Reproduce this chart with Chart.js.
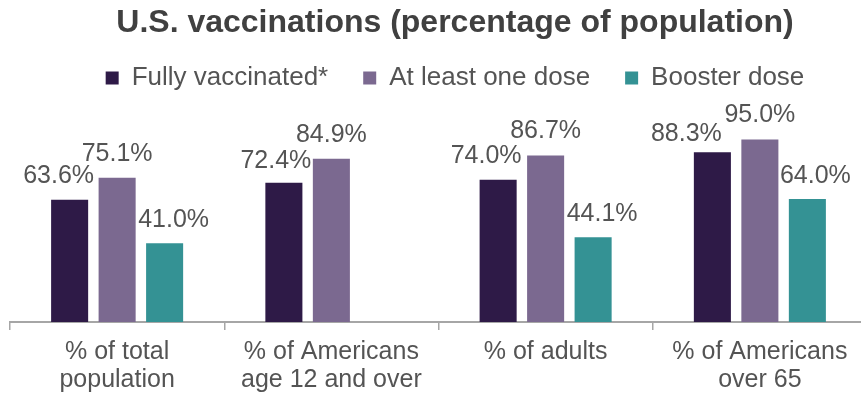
<!DOCTYPE html>
<html>
<head>
<meta charset="utf-8">
<script src="https://cdn.jsdelivr.net/npm/chart.js@4/dist/chart.umd.min.js"></script>
<style>
  html, body { margin: 0; padding: 0; background: #ffffff; overflow: hidden; }
  canvas { display: block; }
</style>
</head>
<body>
<canvas id="chart" width="910" height="401"></canvas>
<script>
// Valores
const categories = [
  ['% of total', 'population'],
  ['% of Americans', 'age 12 and over'],
  ['% of adults'],
  ['% of Americans', 'over 65']
]
const seriesNames = ['Fully vaccinated*', 'At least one dose', 'Booster dose']
const fullyVaccinated = [63.6, 72.4, 74.0, 88.3]
const atLeastOneDose = [75.1, 84.9, 86.7, 95.0]
const boosterDose = [41.0, null, 44.1, 64.0]

const textColor = '#545454'
const fontFamily = '"Liberation Sans", Arial, sans-serif'

// Rótulos de valor acima das barras (estilo Excel, levemente deslocados)
const valueLabels = {
  id: 'valueLabels',
  afterDatasetsDraw(chart, args, opts) {
    const ctx = chart.ctx
    ctx.save()
    ctx.font = '25px ' + fontFamily
    ctx.fillStyle = textColor
    ctx.textAlign = 'center'
    ctx.textBaseline = 'alphabetic'
    chart.data.datasets.forEach((ds, i) => {
      const meta = chart.getDatasetMeta(i)
      meta.data.forEach((bar, j) => {
        const v = ds.data[j]
        if (v == null) return
        ctx.fillText(v.toFixed(1) + '%', bar.x + opts.shiftX[i][j], bar.y - 17 + opts.shiftY[i][j])
      })
    })
    ctx.restore()
  }
}

const ctx = document.getElementById('chart').getContext('2d')

new Chart(ctx, {
  type: 'bar',
  data: {
    labels: categories,
    datasets: [
      { label: seriesNames[0], data: fullyVaccinated, backgroundColor: '#2E1A47' },
      { label: seriesNames[1], data: atLeastOneDose, backgroundColor: '#7B6990' },
      { label: seriesNames[2], data: boosterDose, backgroundColor: '#349294' }
    ]
  },
  options: {
    responsive: false,
    animation: false,
    datasets: {
      bar: {
        categoryPercentage: 0.665,
        barPercentage: 0.78,
        borderWidth: 0
      }
    },
    layout: { padding: 0 },
    plugins: {
      title: {
        display: true,
        text: 'U.S. vaccinations (percentage of population)',
        color: '#404040',
        font: { family: fontFamily, size: 32, weight: 'bold', lineHeight: 0.5 },
        padding: { top: 15, bottom: -1 }
      },
      legend: {
        display: true,
        position: 'top',
        labels: {
          color: textColor,
          font: { family: fontFamily, size: 26 },
          boxWidth: 13,
          boxHeight: 13,
          padding: 35
        }
      },
      tooltip: { enabled: false },
      valueLabels: {
        shiftX: [[-11, -8, -12, -26], [0, 0, 0, 0], [9, 0, 9, 8]],
        shiftY: [[0, 2, 0, 6], [0, 0, 0, 0], [1, 0, 1, 1]]
      }
    },
    scales: {
      x: {
        grid: {
          display: true,
          drawOnChartArea: false,
          drawTicks: true,
          tickLength: 8,
          color: '#A6A6A6',
          lineWidth: 1.5
        },
        border: { display: true, color: '#A6A6A6', width: 2 },
        ticks: {
          color: textColor,
          font: { family: fontFamily, size: 25, lineHeight: 1.12 },
          padding: 8,
          maxRotation: 0,
          autoSkip: false
        },
        afterFit(scale) { scale.height = 79 }
      },
      y: {
        min: 0,
        max: 115,
        display: true,
        grid: { display: false },
        border: { display: false },
        ticks: { display: false },
        afterFit(scale) { scale.width = 10 }
      },
      y2: {
        position: 'right',
        display: true,
        grid: { display: false },
        border: { display: false },
        ticks: { display: false },
        afterFit(scale) { scale.width = 43 }
      }
    }
  },
  plugins: [valueLabels]
})
</script>
</body>
</html>
